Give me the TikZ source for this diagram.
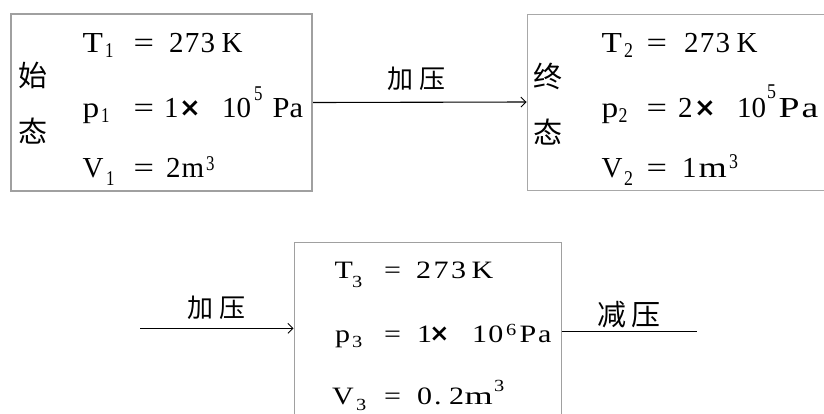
\documentclass[tikz,border=0pt]{standalone}
\usepackage{fontspec}
\setmainfont{Liberation Serif}
\newfontfamily\cjk{Noto Sans CJK SC}
\newfontfamily\djv{DejaVu Sans}
\usetikzlibrary{arrows.meta}
\definecolor{gA}{RGB}{160,160,160}
\definecolor{gB}{RGB}{168,168,168}
\newcommand\widetxt[1]{\scalebox{1.2}[1]{#1}}
\newcommand\wx[2]{\scalebox{#1}[1]{#2}}
\begin{document}
\begin{tikzpicture}[x=1pt,y=-1pt,
  box/.style={draw=#1, inner sep=0pt, rectangle},
  t/.style={anchor=base west, inner sep=0pt, font=\fontsize{29}{29}\selectfont},
  tc/.style={anchor=base west, inner sep=0pt, font=\fontsize{25}{25}\selectfont},
  sb/.style={anchor=base west, inner sep=0pt, font=\fontsize{21}{21}\selectfont},
  sbc/.style={anchor=base west, inner sep=0pt, font=\fontsize{17}{17}\selectfont},
  mul/.style={inner sep=0pt, font=\djv\bfseries\fontsize{26}{26}\selectfont},
  cj/.style={inner sep=0pt, font=\cjk\fontsize{29}{29}\selectfont},
  lab/.style={inner sep=0pt, font=\cjk\fontsize{26}{26}\selectfont},
  conn/.style={line width=1.1pt, black},
  arr/.style={conn, -{Straight Barb[length=5pt,width=10pt,line width=0.9pt]}}
]
\useasboundingbox (0,0) rectangle (824,413);
% boxes
\node[box=gA, line width=2pt, minimum width=301pt, minimum height=177pt] (b1) at (161.5,102.5) {};
\node[box=gB, line width=1pt, minimum width=300pt, minimum height=176pt] (b2) at (677,102) {};
\node[box=gA, line width=1pt, minimum width=267pt, minimum height=190pt] (b3) at (427.5,337) {};

% box 1
\node[cj] (c1a) at (32.5,75) {始};
\node[cj] (c1b) at (32.5,131) {态};
\node[t] (t1) at (82.5,52) {\wx{1.15}{T}};
\node[sb] (t1s) at (105,57) {\wx{0.8}{1}};
\node[t] (t1e) at (133.5,52) {\wx{1.25}{=}};
\node[t] (t1v) at (169,52) {2\kern1.2pt 7\kern1.2pt 3};
\node[t] (t1k) at (221.5,52) {K};
\node[t] (p1) at (82.5,117) {\wx{1.15}{p}};
\node[sb] (p1s) at (101,122) {\wx{0.8}{1}};
\node[t] (p1e) at (133.5,117) {\wx{1.25}{=}};
\node[t] (p1a) at (164,117) {1};
\node[mul] (p1x) at (190,109) {×};
\node[t] (p1b) at (222,117) {10};
\node[sb] (p1c) at (254,100) {\wx{0.8}{5}};
\node[t] (p1d) at (272.5,117) {\wx{1.05}{Pa}};
\node[t] (v1) at (82.5,177) {V};
\node[sb] (v1s) at (106,185) {\wx{0.8}{1}};
\node[t] (v1e) at (133.5,177) {\wx{1.25}{=}};
\node[t] (v1a) at (166,177) {2};
\node[t] (v1b) at (181.5,177) {m};
\node[sb] (v1c) at (206,170) {\wx{0.8}{3}};

% box 2
\node[cj] (c2a) at (547.5,76) {终};
\node[cj] (c2b) at (547.5,132) {态};
\node[t] (t2) at (601.5,52) {\wx{1.15}{T}};
\node[sb] (t2s) at (624,57) {\wx{0.85}{2}};
\node[t] (t2e) at (646.5,52) {\wx{1.25}{=}};
\node[t] (t2v) at (684,52) {2\kern1.2pt 7\kern1.2pt 3};
\node[t] (t2k) at (736.5,52) {K};
\node[t] (p2) at (601.5,117) {\wx{1.15}{p}};
\node[sb] (p2s) at (618.5,122) {\wx{0.85}{2}};
\node[t] (p2e) at (646.5,117) {\wx{1.25}{=}};
\node[t] (p2a) at (678,117) {2};
\node[mul] (p2x) at (705,109) {×};
\node[t] (p2b) at (737,117) {10};
\node[sb] (p2c) at (767,98) {\wx{0.85}{5}};
\node[t] (p2d) at (778.5,117) {\wx{1.3}{P\kern1.5pt a}};
\node[t] (v2) at (601.5,177) {V};
\node[sb] (v2s) at (624,185) {\wx{0.85}{2}};
\node[t] (v2e) at (646.5,177) {\wx{1.25}{=}};
\node[t] (v2a) at (682,177) {1};
\node[t] (v2b) at (698.5,177) {\wx{1.25}{m}};
\node[sb] (v2c) at (729,168) {\wx{0.85}{3}};

% box 3
\node[tc] (t3) at (334.5,278) {\widetxt{T}};
\node[sbc] (t3s) at (352,287) {\widetxt{3}};
\node[tc] (t3e) at (384,278) {\widetxt{=}};
\node[tc] (t3v) at (416,278) {\widetxt{2\kern2pt 7\kern2pt 3}};
\node[tc] (t3k) at (471.5,278) {\widetxt{K}};
\node[tc] (p3) at (335,342) {\widetxt{p}};
\node[sbc] (p3s) at (352,347) {\widetxt{3}};
\node[tc] (p3e) at (384,342) {\widetxt{=}};
\node[tc] (p3a) at (417,342) {\widetxt{1}};
\node[mul, font=\djv\bfseries\fontsize{24}{24}\selectfont] (p3x) at (439.5,334) {×};
\node[tc] (p3b) at (472,342) {\widetxt{1\kern1pt 0}};
\node[sbc] (p3c) at (506,335) {\widetxt{6}};
\node[tc] (p3d) at (519.5,342) {\widetxt{P\kern1.5pt a}};
\node[tc] (v3) at (332,404) {\widetxt{V}};
\node[sbc] (v3s) at (356,410.5) {\widetxt{3}};
\node[tc] (v3e) at (384,404) {\widetxt{=}};
\node[tc] (v3a) at (417,404) {\widetxt{0}};
\node[tc] (v3d) at (434,404) {\widetxt{.}};
\node[tc] (v3b) at (449,404) {\widetxt{2}};
\node[tc] (v3m) at (464.5,404) {\wx{1.45}{m}};
\node[sbc] (v3c) at (494,391) {\widetxt{3}};

% connectors
\draw[arr] (b1.east) -- (b2.west);
\node[lab] (l1) at (416.5,79) {加\hspace{6pt}压};
\coordinate (s3) at (140,328.3);
\draw[arr] (s3) -- (s3 -| b3.west);
\node[lab] (l2) at (216.5,308) {加\hspace{6pt}压};
\coordinate (e3) at (697,331.7);
\draw[conn] (e3 -| b3.east) -- (e3);
\node[lab, font=\cjk\fontsize{29}{29}\selectfont] (l3) at (629,315) {减\hspace{5pt}压};
\end{tikzpicture}
\end{document}
